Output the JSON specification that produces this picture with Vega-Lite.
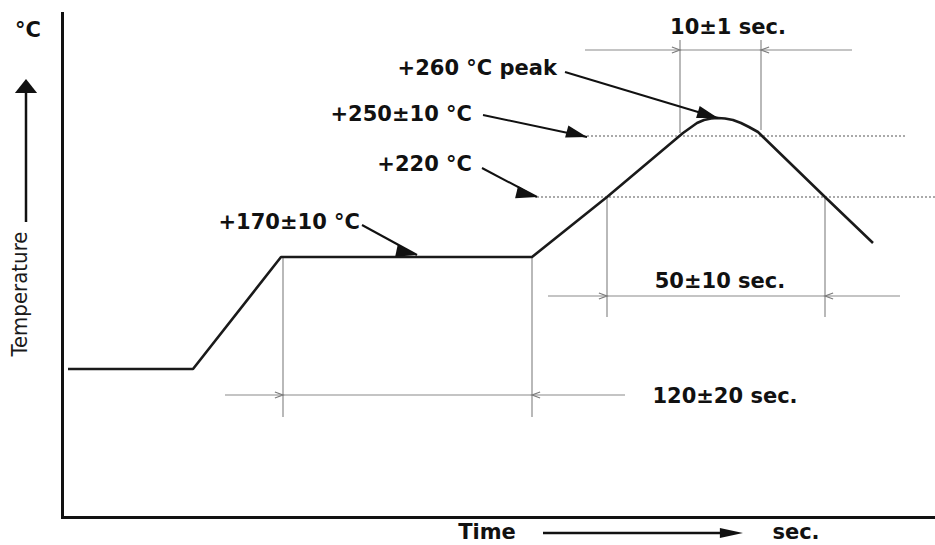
{
  "$schema": "https://vega.github.io/schema/vega-lite/v6.json",
  "width": 873,
  "height": 504,
  "autosize": {"type": "none"},
  "padding": {"left": 62, "top": 13, "right": 0, "bottom": 28},
  "background": "white",
  "config": {
    "view": {"stroke": null},
    "axis": {"ticks": false, "labels": false, "grid": false, "domainColor": "#111", "domainWidth": 3, "domainCap": "square"},
    "text": {"font": "DejaVu Sans", "fontWeight": "bold", "fontSize": 21, "color": "#111", "baseline": "middle"}
  },
  "resolve": {"scale": {"shape": "independent", "angle": "independent"}},
  "datasets": {
    "profile": [
      {"time": 6, "temp": 148}, {"time": 131, "temp": 148}, {"time": 219, "temp": 260},
      {"time": 470, "temp": 260}, {"time": 545, "temp": 320}, {"time": 621, "temp": 384},
      {"time": 628, "temp": 389}, {"time": 635, "temp": 394}, {"time": 642, "temp": 397},
      {"time": 649, "temp": 398.5}, {"time": 656, "temp": 399}, {"time": 663, "temp": 398.5},
      {"time": 671, "temp": 397}, {"time": 679, "temp": 394}, {"time": 687, "temp": 390},
      {"time": 696, "temp": 385},
      {"time": 763, "temp": 320}, {"time": 811, "temp": 274}
    ],
    "levels": [
      {"level": "250±10 °C", "time": 525, "time2": 845, "temp": 381},
      {"level": "220 °C", "time": 475, "time2": 873, "temp": 320}
    ],
    "extents": [
      {"time": 221, "temp": 260, "temp2": 100},
      {"time": 470, "temp": 260, "temp2": 100},
      {"time": 545, "temp": 320, "temp2": 200},
      {"time": 763, "temp": 320, "temp2": 200},
      {"time": 618, "temp": 477, "temp2": 384},
      {"time": 699, "temp": 477, "temp2": 387}
    ],
    "dims": [
      {"time": 163, "time2": 563, "temp": 122},
      {"time": 486, "time2": 838, "temp": 221},
      {"time": 523, "time2": 790, "temp": 467}
    ],
    "chevrons": [
      {"time": 221, "temp": 122, "dir": "right"}, {"time": 470, "temp": 122, "dir": "left"},
      {"time": 545, "temp": 221, "dir": "right"}, {"time": 763, "temp": 221, "dir": "left"},
      {"time": 618, "temp": 467, "dir": "right"}, {"time": 699, "temp": 467, "dir": "left"}
    ],
    "dimLabels": [
      {"time": 663, "temp": 120, "text": "120±20 sec."},
      {"time": 658, "temp": 235, "text": "50±10 sec."},
      {"time": 666, "temp": 489, "text": "10±1 sec."}
    ],
    "callouts": [
      {"name": "peak", "text": "+260 °C peak", "labelTime": 495, "labelTemp": 448, "time": 503, "temp": 445, "tipTime": 656, "tipTemp": 399},
      {"name": "reflow", "text": "+250±10 °C", "labelTime": 410, "labelTemp": 402, "time": 421, "temp": 402, "tipTime": 525, "tipTemp": 380},
      {"name": "liquidus", "text": "+220 °C", "labelTime": 410, "labelTemp": 352, "time": 420, "temp": 349, "tipTime": 475, "tipTemp": 320},
      {"name": "preheat", "text": "+170±10 °C", "labelTime": 298, "labelTemp": 294, "time": 300, "temp": 292, "tipTime": 355, "tipTemp": 262}
    ],
    "axisShafts": [
      {"axis": "temperature", "time": -36, "time2": -36, "temp": 295, "temp2": 424},
      {"axis": "time", "time": 481, "time2": 660, "temp": -16, "temp2": -16}
    ],
    "axisHeads": [
      {"axis": "temperature", "time": -36, "temp": 438},
      {"axis": "time", "time": 681, "temp": -16}
    ],
    "axisTexts": [
      {"text": "°C", "time": -34, "temp": 486},
      {"text": "Time", "time": 425, "temp": -16},
      {"text": "sec.", "time": 734, "temp": -16}
    ],
    "yTitle": [{"text": "Temperature", "time": -42, "temp": 223}]
  },
  "layer": [
    {
      "data": {"name": "levels"},
      "mark": {"type": "rule", "color": "#8f8f8f", "strokeWidth": 1.5, "strokeDash": [2, 2]},
      "encoding": {
        "x": {"field": "time", "type": "quantitative", "scale": {"domain": [0, 873], "nice": false, "zero": false}, "title": null},
        "x2": {"field": "time2"},
        "y": {"field": "temp", "type": "quantitative", "scale": {"domain": [0, 504], "nice": false, "zero": false}, "title": null}
      }
    },
    {
      "data": {"name": "extents"},
      "mark": {"type": "rule", "color": "#8a8a8a", "strokeWidth": 1.2},
      "encoding": {
        "x": {"field": "time", "type": "quantitative", "title": null},
        "y": {"field": "temp", "type": "quantitative", "title": null},
        "y2": {"field": "temp2"}
      }
    },
    {
      "data": {"name": "dims"},
      "mark": {"type": "rule", "color": "#8a8a8a", "strokeWidth": 1.2},
      "encoding": {
        "x": {"field": "time", "type": "quantitative", "title": null},
        "x2": {"field": "time2"},
        "y": {"field": "temp", "type": "quantitative", "title": null}
      }
    },
    {
      "data": {"name": "chevrons"},
      "mark": {"type": "point", "filled": false, "color": "#7a7a7a", "strokeWidth": 1.2, "size": 36, "opacity": 1},
      "encoding": {
        "x": {"field": "time", "type": "quantitative", "title": null},
        "y": {"field": "temp", "type": "quantitative", "title": null},
        "shape": {"field": "dir", "type": "nominal", "legend": null,
          "scale": {"domain": ["right", "left"], "range": ["M-2.7,-1L0,0L-2.7,1", "M2.7,-1L0,0L2.7,1"]}}
      }
    },
    {
      "data": {"name": "profile"},
      "mark": {"type": "line", "color": "#1a1a1a", "strokeWidth": 2.6, "strokeJoin": "round"},
      "encoding": {
        "x": {"field": "time", "type": "quantitative", "title": null},
        "y": {"field": "temp", "type": "quantitative", "title": null}
      }
    },
    {
      "data": {"name": "callouts"},
      "mark": {"type": "rule", "color": "#111", "strokeWidth": 2},
      "encoding": {
        "x": {"field": "time", "type": "quantitative", "title": null},
        "x2": {"field": "tipTime"},
        "y": {"field": "temp", "type": "quantitative", "title": null},
        "y2": {"field": "tipTemp"}
      }
    },
    {
      "data": {"name": "callouts"},
      "mark": {"type": "point", "filled": true, "color": "#111", "size": 49, "opacity": 1, "shape": "M0,0L-6,-1.8L-6,1.8Z"},
      "encoding": {
        "x": {"field": "tipTime", "type": "quantitative", "title": null},
        "y": {"field": "tipTemp", "type": "quantitative", "title": null},
        "angle": {"field": "name", "type": "nominal", "legend": null,
          "scale": {"domain": ["peak", "reflow", "liquidus", "preheat"], "range": [16.7, 11.9, 27.8, 28.6]}}
      }
    },
    {
      "data": {"name": "callouts"},
      "mark": {"type": "text", "align": "right"},
      "encoding": {
        "x": {"field": "labelTime", "type": "quantitative", "title": null},
        "y": {"field": "labelTemp", "type": "quantitative", "title": null},
        "text": {"field": "text"}
      }
    },
    {
      "data": {"name": "dimLabels"},
      "mark": {"type": "text", "align": "center"},
      "encoding": {
        "x": {"field": "time", "type": "quantitative", "title": null},
        "y": {"field": "temp", "type": "quantitative", "title": null},
        "text": {"field": "text"}
      }
    },
    {
      "data": {"name": "axisShafts"},
      "mark": {"type": "rule", "color": "#111", "strokeWidth": 2.5},
      "encoding": {
        "x": {"field": "time", "type": "quantitative", "title": null},
        "x2": {"field": "time2"},
        "y": {"field": "temp", "type": "quantitative", "title": null},
        "y2": {"field": "temp2"}
      }
    },
    {
      "data": {"name": "axisHeads"},
      "mark": {"type": "point", "filled": true, "color": "#111", "size": 36, "opacity": 1},
      "encoding": {
        "x": {"field": "time", "type": "quantitative", "title": null},
        "y": {"field": "temp", "type": "quantitative", "title": null},
        "shape": {"field": "axis", "type": "nominal", "legend": null,
          "scale": {"domain": ["temperature", "time"], "range": ["M0,0L-3.7,4.7L3.7,4.7Z", "M0,0L-7.7,-1.7L-7.7,1.7Z"]}}
      }
    },
    {
      "data": {"name": "axisTexts"},
      "mark": {"type": "text", "align": "center"},
      "encoding": {
        "x": {"field": "time", "type": "quantitative", "title": null},
        "y": {"field": "temp", "type": "quantitative", "title": null},
        "text": {"field": "text"}
      }
    },
    {
      "data": {"name": "yTitle"},
      "mark": {"type": "text", "align": "center", "angle": 270, "font": "Liberation Sans Narrow, DejaVu Sans Condensed, Liberation Sans", "fontWeight": "normal", "fontSize": 22, "color": "#1a1a1a"},
      "encoding": {
        "x": {"field": "time", "type": "quantitative", "title": null},
        "y": {"field": "temp", "type": "quantitative", "title": null},
        "text": {"field": "text"}
      }
    }
  ]
}
